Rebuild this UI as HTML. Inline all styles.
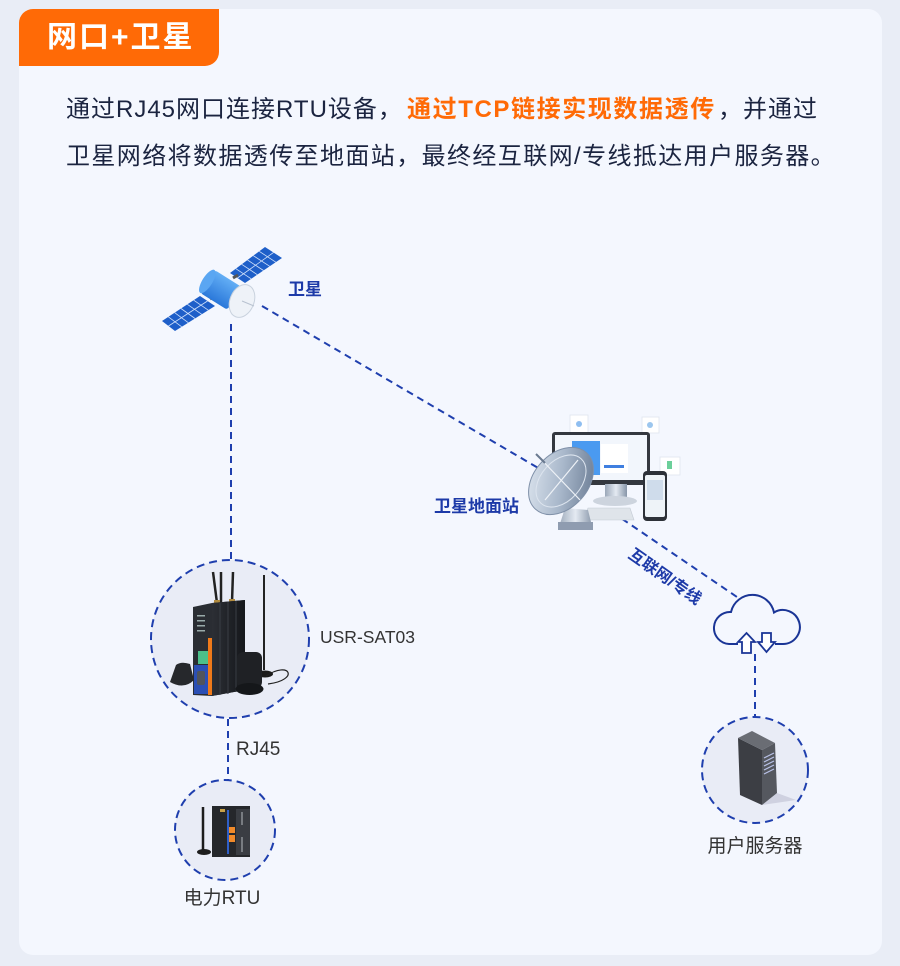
<!DOCTYPE html>
<html><head><meta charset="utf-8">
<style>
*{margin:0;padding:0;box-sizing:border-box}
html,body{width:900px;height:966px;overflow:hidden;background:#e9edf6}
body{position:relative;font-family:"Liberation Sans","Noto Sans CJK SC",sans-serif}
.card{position:absolute;left:19px;top:9px;width:863px;height:946px;background:#f4f7fe;border-radius:14px}
.tab{position:absolute;left:19px;top:9px;width:200px;height:57px;background:#ff6a06;border-radius:14px 0 14px 0;color:#fff;font-weight:bold;font-size:30px;letter-spacing:2px;line-height:57px;padding-left:28px;white-space:nowrap}
.t{position:absolute;font-size:24px;line-height:47px;color:#1b2440;white-space:nowrap;letter-spacing:1px}
.o{color:#ff6a06;font-weight:bold;letter-spacing:1.6px}
svg{position:absolute;left:0;top:0}
</style></head><body>
<div class="card"></div>
<div class="tab">网口+卫星</div>
<div class="t" style="left:66px;top:86px">通过RJ45网口连接RTU设备，</div>
<div class="t o" style="left:407px;top:86px">通过TCP链接实现数据透传</div>
<div class="t" style="left:718px;top:86px">，并通过</div>
<div class="t" style="left:66px;top:133px;letter-spacing:1.4px">卫星网络将数据透传至地面站，最终经互联网/专线抵达用户服务器。</div>

<svg width="900" height="966" viewBox="0 0 900 966" xmlns="http://www.w3.org/2000/svg">
<defs>
<linearGradient id="dish" x1="0" y1="0" x2="1" y2="1">
<stop offset="0" stop-color="#e6edf5"/><stop offset="0.5" stop-color="#a9b8cb"/><stop offset="1" stop-color="#5d6f88"/>
</linearGradient>
<linearGradient id="ped" x1="0" y1="0" x2="1" y2="0">
<stop offset="0" stop-color="#9aa7b8"/><stop offset="0.5" stop-color="#e4eaf2"/><stop offset="1" stop-color="#8795a8"/>
</linearGradient>
<linearGradient id="body" x1="0" y1="0" x2="0" y2="1">
<stop offset="0" stop-color="#63aef5"/><stop offset="1" stop-color="#2a78da"/>
</linearGradient>
<linearGradient id="side" x1="0" y1="0" x2="1" y2="0">
<stop offset="0" stop-color="#2c2f35"/><stop offset="1" stop-color="#15171b"/>
</linearGradient>
</defs>

<g fill="none" stroke="#1f3fae" stroke-width="2" stroke-dasharray="7 5">
<line x1="231" y1="324" x2="231" y2="559"/>
<line x1="228" y1="719" x2="228" y2="780"/>
<line x1="262" y1="306" x2="545" y2="472"/>
<line x1="612" y1="512" x2="737" y2="597"/>
<line x1="755" y1="654" x2="755" y2="717"/>
</g>

<g fill="#e9ecf6" stroke="#1f3fae" stroke-width="2" stroke-dasharray="8 5">
<circle cx="230" cy="639" r="79"/>
<circle cx="225" cy="830" r="50"/>
<circle cx="755" cy="770" r="53"/>
</g>

<g>
<polygon points="162,321 200,296 215,306 175,331" fill="#1e5fc9"/>
<g stroke="#cfe0fa" stroke-width="0.8">
<line x1="168.3" y1="316.8" x2="181.7" y2="326.8"/><line x1="174.7" y1="312.7" x2="188.3" y2="322.7"/>
<line x1="181" y1="308.5" x2="195" y2="318.5"/><line x1="187.3" y1="304.3" x2="201.7" y2="314.3"/>
<line x1="193.7" y1="300.2" x2="208.3" y2="310.2"/><line x1="168.5" y1="326" x2="207.5" y2="301"/>
</g>
<polygon points="230,273 265,247 282,258 245,283" fill="#1e5fc9"/>
<g stroke="#cfe0fa" stroke-width="0.8">
<line x1="235.8" y1="268.7" x2="251.2" y2="278.8"/><line x1="241.7" y1="264.3" x2="257.3" y2="274.7"/>
<line x1="247.5" y1="260" x2="263.5" y2="270.5"/><line x1="253.3" y1="255.7" x2="269.7" y2="266.3"/>
<line x1="259.2" y1="251.3" x2="275.8" y2="262.2"/><line x1="237.5" y1="278" x2="273.5" y2="252.5"/>
</g>
<line x1="210" y1="299" x2="217" y2="295" stroke="#555" stroke-width="3"/>
<line x1="233" y1="278" x2="238" y2="275" stroke="#555" stroke-width="3"/>
<g transform="translate(222,290) rotate(32)">
<rect x="-17" y="-13" width="32" height="27" rx="3" fill="url(#body)"/>
<ellipse cx="-17" cy="0.5" rx="5" ry="13.5" fill="#5aa6f2"/>
</g>
<ellipse cx="242" cy="301" rx="12" ry="17" transform="rotate(22 242 301)" fill="#eef2f8" stroke="#c9d2de" stroke-width="1"/>
<line x1="242" y1="301" x2="254" y2="306" stroke="#b8c2d0" stroke-width="1"/>
</g>
<text x="288" y="295" font-size="17" font-weight="bold" fill="#1d3aa8" font-family="Liberation Sans,Noto Sans CJK SC,sans-serif">卫星</text>

<g>
<rect x="570" y="415" width="18" height="18" fill="#fff" stroke="#dfe5ee" stroke-width="0.8"/>
<circle cx="579" cy="424" r="3" fill="#8fbef0"/>
<rect x="642" y="417" width="17" height="16" fill="#fff" stroke="#dfe5ee" stroke-width="0.8"/>
<circle cx="650" cy="425" r="3" fill="#9cc6ee"/>
<rect x="660" y="457" width="20" height="18" fill="#fff" stroke="#dfe5ee" stroke-width="0.8"/>
<rect x="667" y="461" width="5" height="8" fill="#6ccf9a"/>
<rect x="552" y="432" width="98" height="53" rx="3" fill="#34383f"/>
<rect x="555" y="435" width="92" height="45" fill="#f2f6fc"/>
<rect x="572" y="441" width="28" height="34" fill="#4a9af0"/>
<rect x="601" y="444" width="27" height="29" fill="#fff"/>
<rect x="604" y="465" width="20" height="3" fill="#3f7fe0"/>
<rect x="605" y="484" width="22" height="15" fill="url(#ped)"/>
<ellipse cx="615" cy="501" rx="22" ry="5" fill="#cdd4de"/>
<polygon points="588,508 630,508 634,520 584,520" fill="#dfe4ea" stroke="#c3cad4" stroke-width="0.6"/>
<rect x="643" y="471" width="24" height="50" rx="4" fill="#2d3138"/>
<rect x="645" y="475" width="20" height="42" rx="2" fill="#eef3f8"/>
<rect x="647" y="480" width="16" height="20" fill="#cfdceb"/>
<polygon points="558,530 593,530 588,510 565,508" fill="url(#ped)"/>
<rect x="558" y="522" width="35" height="8" fill="#8f9cb0"/>
<ellipse cx="561" cy="481" rx="38" ry="27" transform="rotate(-48 561 481)" fill="url(#dish)" stroke="#7f90a8" stroke-width="1"/>
<ellipse cx="561" cy="481" rx="30" ry="20" transform="rotate(-48 561 481)" fill="none" stroke="#dce4ee" stroke-width="1"/>
<line x1="538" y1="456" x2="580" y2="500" stroke="#eef2f7" stroke-width="1.2"/>
<line x1="545" y1="500" x2="578" y2="460" stroke="#eef2f7" stroke-width="1.2"/>
<line x1="536" y1="454" x2="545" y2="463" stroke="#6a7a90" stroke-width="2"/>
</g>
<text x="434" y="512" font-size="17" font-weight="bold" fill="#1d3aa8" font-family="Liberation Sans,Noto Sans CJK SC,sans-serif">卫星地面站</text>

<text x="0" y="0" font-size="16" font-weight="bold" fill="#1d3aa8" text-anchor="middle" transform="translate(662,581) rotate(35)" font-family="Liberation Sans,Noto Sans CJK SC,sans-serif">互联网/专线</text>

<path d="M738 644 H729 A16 16 0 1 1 731 612 A22 22 0 0 1 774 612.5 A17 17 0 1 1 783 644 H775" fill="none" stroke="#1a3596" stroke-width="2"/>
<polygon points="746.5,633 755,642 751,642 751,653 742,653 742,642 738,642" fill="#fff" stroke="#1a3596" stroke-width="1.8" stroke-linejoin="miter"/>
<polygon points="762,633 771,633 771,642 775,642 766.5,652 758,642 762,642" fill="#fff" stroke="#1a3596" stroke-width="1.8"/>

<g>
<line x1="217" y1="603" x2="213" y2="572" stroke="#222" stroke-width="2.5"/>
<line x1="221" y1="603" x2="221" y2="572" stroke="#222" stroke-width="2.5"/>
<line x1="232" y1="602" x2="233" y2="572" stroke="#222" stroke-width="2.5"/>
<rect x="214" y="600" width="6" height="5" fill="#b08a3e"/>
<rect x="229" y="599" width="6" height="5" fill="#b08a3e"/>
<polygon points="193,607 212,603 245,600 245,690 212,696 193,695" fill="#2a2d33"/>
<polygon points="212,603 245,600 245,690 212,696" fill="url(#side)"/>
<g stroke="#3a3e45" stroke-width="1"><line x1="220" y1="603" x2="220" y2="695"/><line x1="228" y1="602" x2="228" y2="694"/><line x1="236" y1="601" x2="236" y2="692"/></g>
<rect x="194" y="665" width="14" height="29" fill="#2b4fb4"/>
<rect x="208" y="638" width="4" height="57" fill="#f07a1a"/>
<rect x="198" y="651" width="10" height="13" fill="#4cc08a"/>
<rect x="197" y="671" width="8" height="14" rx="2" fill="#50545c"/>
<g fill="#9aa"><rect x="197" y="615" width="8" height="1.5"/><rect x="197" y="620" width="8" height="1.5"/><rect x="197" y="625" width="8" height="1.5"/><rect x="197" y="630" width="8" height="1.5"/></g>
<line x1="264" y1="575" x2="264" y2="670" stroke="#222" stroke-width="2"/>
<ellipse cx="265" cy="674" rx="8" ry="3.5" fill="#1c1c1c"/>
<path d="M266 676 C290 660 300 680 268 684" fill="none" stroke="#222" stroke-width="1.2"/>
<rect x="237" y="652" width="25" height="36" rx="6" fill="#1f2125"/>
<ellipse cx="249.5" cy="689" rx="14" ry="6" fill="#15171a"/>
<path d="M170 682 L176 665 Q181 661 190 664 L194 680 Q184 690 170 682Z" fill="#26282c"/>
</g>
<text x="320" y="643" font-size="17.5" fill="#333" font-family="Liberation Sans,sans-serif">USR-SAT03</text>
<text x="236" y="755" font-size="19" fill="#333" font-family="Liberation Sans,sans-serif">RJ45</text>

<g>
<line x1="203" y1="807" x2="203" y2="850" stroke="#1d1d1d" stroke-width="2.5"/>
<ellipse cx="204" cy="852" rx="7" ry="3" fill="#1d1d1d"/>
<rect x="212" y="806" width="38" height="51" fill="#25272b"/>
<rect x="236" y="809" width="14" height="46" fill="#3a3d43"/>
<rect x="227" y="810" width="2" height="44" fill="#2f5fc9"/>
<rect x="229" y="827" width="6" height="6" fill="#f08a2a"/>
<rect x="229" y="835" width="6" height="7" fill="#f08a2a"/>
<g stroke="#d7dbe0" stroke-width="0.8"><line x1="242" y1="812" x2="242" y2="825"/><line x1="242" y1="837" x2="242" y2="852"/></g>
<rect x="220" y="809" width="5" height="3" fill="#c9a24a"/>
</g>
<text x="222" y="904" font-size="19" fill="#333" text-anchor="middle" font-family="Liberation Sans,Noto Sans CJK SC,sans-serif">电力RTU</text>

<g>
<polygon points="762,805 796,800 777,793" fill="#cfd1e0"/>
<polygon points="738,738 762,750 762,805 740,795" fill="#3c3e44"/>
<polygon points="762,750 775,743 777,793 762,805" fill="#55585f"/>
<polygon points="738,738 752,731 775,743 762,750" fill="#6a6d74"/>
<g stroke="#b9c2e8" stroke-width="1.2">
<line x1="764" y1="758" x2="774" y2="753"/><line x1="764" y1="762" x2="774" y2="757"/>
<line x1="764" y1="766" x2="774" y2="761"/><line x1="764" y1="770" x2="774" y2="765"/>
<line x1="764" y1="774" x2="774" y2="769"/>
</g>
</g>
<text x="755" y="852" font-size="19" fill="#333" text-anchor="middle" font-family="Liberation Sans,Noto Sans CJK SC,sans-serif">用户服务器</text>
</svg>
</body></html>
